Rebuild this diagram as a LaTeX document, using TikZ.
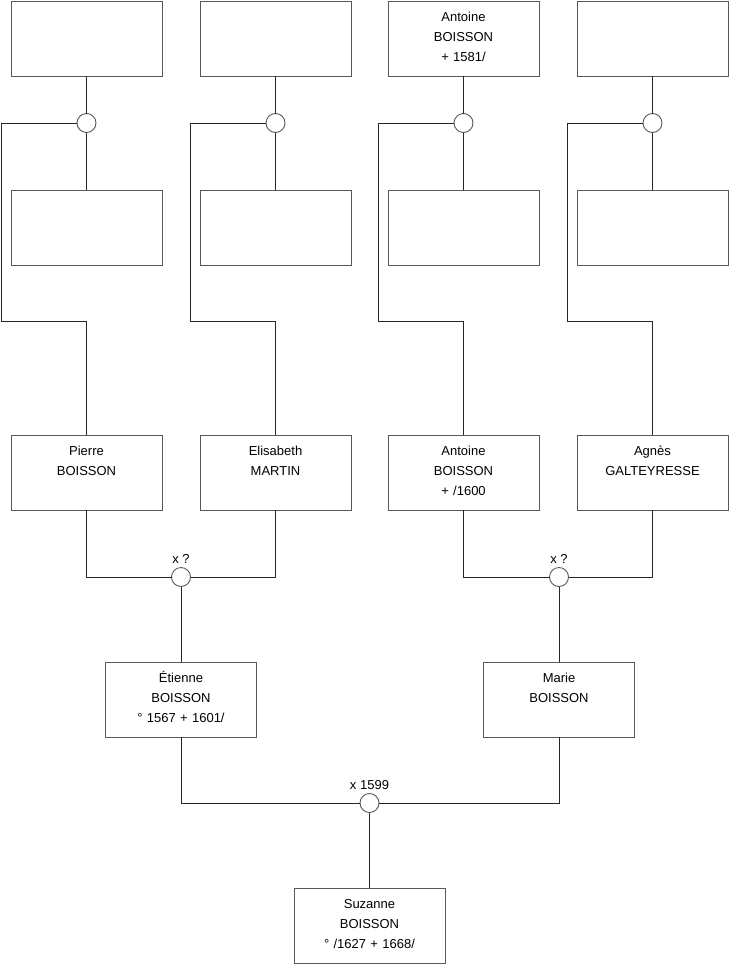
\documentclass[tikz,border=0pt]{standalone}
\usepackage{fontspec}
\setmainfont{Liberation Sans}
\usetikzlibrary{positioning}

\begin{document}
\begin{tikzpicture}[x=1pt, y=-1pt,
            person/.style={draw=black!65, line width=0.9pt, rectangle, minimum width=151pt, minimum height=75pt, text width=151pt, inner sep=0pt, outer sep=0pt, align=center, text height=20pt, text depth=55pt, font=\fontsize{13}{20}\selectfont},
            union/.style={draw=black!65, line width=0.9pt, circle, fill=white, minimum size=19pt, inner sep=0pt, outer sep=0pt},
            link/.style={line width=0.9pt, black!85},
            every label/.style={font=\fontsize{13}{16}\selectfont}
        ]
        \useasboundingbox (0,0) rectangle (740,975);

        % great-grandparents
        \node[person] (a1) at (86.5,38.5) {};
        \node[person, right=38pt of a1] (a2) {};
        \node[person, right=37pt of a2] (a3) {Antoine\\BOISSON\\+ 1581/};
        \node[person, right=38pt of a3] (a4) {};

        \node[union, below=37.5pt of a1] (u1) {};
        \node[union, below=37.5pt of a2] (u2) {};
        \node[union, below=37.5pt of a3] (u3) {};
        \node[union, below=37.5pt of a4] (u4) {};

        \node[person, below=57.5pt of u1] (b1) {};
        \node[person, below=57.5pt of u2] (b2) {};
        \node[person, below=57.5pt of u3] (b3) {};
        \node[person, below=57.5pt of u4] (b4) {};

        % grandparents
        \node[person, below=170pt of b1] (c1) {Pierre\\BOISSON};
        \node[person, below=170pt of b2] (c2) {Elisabeth\\MARTIN};
        \node[person, below=170pt of b3] (c3) {Antoine\\BOISSON\\+ /1600};
        \node[person, below=170pt of b4] (c4) {Agnès\\GALTEYRESSE};

        \coordinate (k1) at ([xshift=-9.5pt] b1.west |- 0,321.5);
        \coordinate (k2) at ([xshift=-9.5pt] b2.west |- 0,321.5);
        \coordinate (k3) at ([xshift=-9.5pt] b3.west |- 0,321.5);
        \coordinate (k4) at ([xshift=-9.5pt] b4.west |- 0,321.5);

        % parents
        \node[union, label=above:{x ?}] (u5) at (181,577) {};
        \node[union, label=above:{x ?}] (u6) at (559,577) {};
        \node[person, below=75.5pt of u5] (e1) {Étienne\\BOISSON\\° 1567 + 1601/};
        \node[person, below=75.5pt of u6] (m1) {Marie\\BOISSON};

        \node[union, label=above:{x 1599}] (u7) at (369.5,803) {};
        \node[person, below=75.5pt of u7] (s1) {Suzanne\\BOISSON\\° /1627 + 1668/};

        % Kanten
        \draw[link] (a1.south) -- (u1.north);
        \draw[link] (a2.south) -- (u2.north);
        \draw[link] (a3.south) -- (u3.north);
        \draw[link] (a4.south) -- (u4.north);

        \draw[link] (u1.south) -- (b1.north);
        \draw[link] (u2.south) -- (b2.north);
        \draw[link] (u3.south) -- (b3.north);
        \draw[link] (u4.south) -- (b4.north);

        \draw[link] (u1.west) -| (k1) -| (c1.north);
        \draw[link] (u2.west) -| (k2) -| (c2.north);
        \draw[link] (u3.west) -| (k3) -| (c3.north);
        \draw[link] (u4.west) -| (k4) -| (c4.north);

        \draw[link] (c1.south) |- (u5.west);
        \draw[link] (c2.south) |- (u5.east);
        \draw[link] (c3.south) |- (u6.west);
        \draw[link] (c4.south) |- (u6.east);
        \draw[link] (u5.south) -- (e1.north);
        \draw[link] (u6.south) -- (m1.north);

        \draw[link] (e1.south) |- (u7.west);
        \draw[link] (m1.south) |- (u7.east);
        \draw[link] (u7.south) -- (s1.north);

    \end{tikzpicture}
\end{document}
